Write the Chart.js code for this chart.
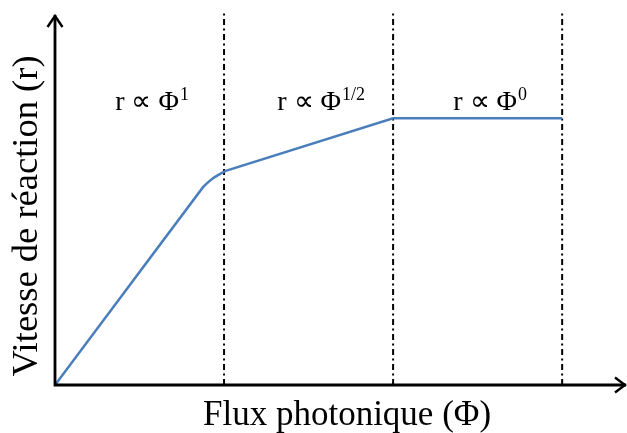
<!DOCTYPE html>
<html>
<head>
<meta charset="utf-8">
<script src="https://cdn.jsdelivr.net/npm/chart.js@4"></script>
<style>
  html, body { margin: 0; padding: 0; background: #fff; }
  #wrap { width: 627px; height: 433px; }
</style>
</head>
<body>
<div id="wrap"><canvas id="myChart"></canvas></div>
<script>
// photon flux (x) and reaction rate (y)
const fluxValues = [0, 2.63, 2.72, 2.82, 2.93, 3.03, 6.0, 9.0];
const rateValues = [0, 5.31, 5.44, 5.56, 5.66, 5.74, 7.15, 7.15];
// regime boundaries (dash-dot lines)
const boundaries = [3, 6, 9];
const regimeLabels = [["r \u221D \u03A6", "1"], ["r \u221D \u03A6", "1/2"], ["r \u221D \u03A6", "0"]];
const xTitle = "Flux photonique (\u03A6)";
const yTitle = "Vitesse de r\u00E9action (r)";

const datasets = [{
    data: fluxValues.map((x, i) => ({ x: x, y: rateValues[i] })),
    borderColor: "#4a7ebb",
    borderWidth: 2.5,
    pointRadius: 0,
    showLine: true,
    fill: false,
    tension: 0
}];
boundaries.forEach(b => {
    datasets.push({
        data: [{ x: b, y: 0 }, { x: b, y: 10 }],
        borderColor: "#000",
        borderWidth: 2,
        borderDash: [6, 3.5, 2, 3.5],
        borderCapStyle: "butt",
        pointRadius: 0,
        showLine: true,
        fill: false
    });
});

const decor = {
    id: "decor",
    afterDatasetsDraw(chart) {
        const ctx = chart.ctx;
        const xs = chart.scales.x, ys = chart.scales.y;
        const x0 = xs.getPixelForValue(0), y0 = ys.getPixelForValue(0);
        const top = 15, right = 626;
        ctx.save();
        ctx.strokeStyle = "#000";
        ctx.lineWidth = 2.8;
        ctx.beginPath();
        ctx.moveTo(x0, y0 + 1.4); ctx.lineTo(x0, top);
        ctx.moveTo(x0 - 1.4, y0); ctx.lineTo(right, y0);
        ctx.stroke();
        // arrow heads
        ctx.lineWidth = 2.4;
        ctx.beginPath();
        ctx.moveTo(x0 - 7.5, top + 12); ctx.lineTo(x0, top + 1); ctx.lineTo(x0 + 7.5, top + 12);
        ctx.moveTo(right - 11, y0 - 7.5); ctx.lineTo(right - 1, y0); ctx.lineTo(right - 11, y0 + 7.5);
        ctx.stroke();

        ctx.fillStyle = "#000";
        ctx.textBaseline = "alphabetic";
        ctx.textAlign = "left";
        // regime labels
        const edges = [0].concat(boundaries);
        regimeLabels.forEach((lab, i) => {
            const cx = xs.getPixelForValue((edges[i] + edges[i + 1]) / 2) + 12;
            ctx.font = "28px 'Liberation Serif'";
            const w1 = ctx.measureText(lab[0]).width;
            ctx.font = "18px 'Liberation Serif'";
            const w2 = ctx.measureText(lab[1]).width;
            const sx = cx - (w1 + w2) / 2;
            ctx.font = "28px 'Liberation Serif'";
            ctx.fillText(lab[0], sx, 110);
            ctx.font = "18px 'Liberation Serif'";
            ctx.fillText(lab[1], sx + w1 + 1, 100);
        });
        // axis titles
        ctx.textAlign = "center";
        ctx.font = "35px 'Liberation Serif'";
        ctx.fillText(xTitle, 347, 425);
        ctx.translate(37, 216);
        ctx.rotate(-Math.PI / 2);
        ctx.font = "36.5px 'Liberation Serif'";
        ctx.fillText(yTitle, 0, 0);
        ctx.restore();
    }
};

new Chart("myChart", {
    type: "scatter",
    data: { datasets: datasets },
    options: {
        responsive: true,
        maintainAspectRatio: false,
        animation: false,
        layout: { padding: { left: 55, right: 8.5, top: 12, bottom: 48 } },
        plugins: { legend: { display: false }, tooltip: { enabled: false } },
        scales: {
            x: { type: "linear", min: 0, max: 10, display: false },
            y: { type: "linear", min: 0, max: 10, display: false }
        }
    },
    plugins: [decor]
});
</script>
</body>
</html>
